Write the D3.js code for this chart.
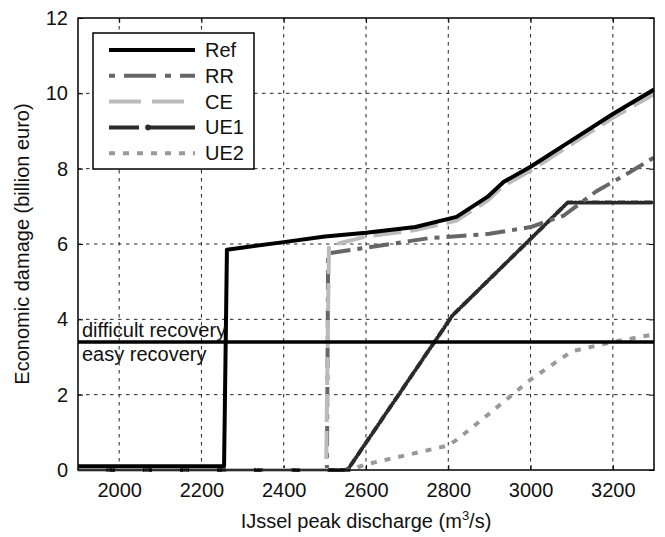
<!DOCTYPE html>
<html>
<head>
<meta charset="utf-8">
<script src="https://cdn.jsdelivr.net/npm/d3@7"></script>
<style>
  body { margin: 0; background: #fff; }
  text { font-family: "Liberation Sans", Arial, sans-serif; fill: #111; }
</style>
</head>
<body>
<script>
// discharge (m3/s) vs damage (billion euro)
var refData = [[1900,0.1],[2255,0.1],[2262,5.85],[2400,6.05],[2500,6.2],[2600,6.3],[2720,6.45],[2820,6.72],[2895,7.25],[2935,7.65],[3000,8.05],[3100,8.75],[3200,9.45],[3300,10.1]]
var rrData = [[1900,0],[2505,0],[2508,5.75],[2600,5.9],[2750,6.15],[2900,6.27],[3000,6.45],[3080,6.75],[3160,7.4],[3240,7.9],[3300,8.3]]
var ceData = [[1900,0],[2503,0],[2510,5.95],[2600,6.2],[2720,6.37],[2820,6.62],[2895,7.15],[2935,7.55],[3000,7.95],[3100,8.65],[3200,9.35],[3300,9.98]]
var ue1Data = [[1900,0],[2555,0],[2810,4.1],[3090,7.1],[3300,7.1]]
var ue2Data = [[1900,0],[2560,0],[2600,0.15],[2800,0.65],[2820,0.8],[2900,1.5],[3000,2.4],[3100,3.15],[3200,3.4],[3300,3.6]]
var threshold = 3.4
var seriesNames = ["Ref", "RR", "CE", "UE1", "UE2"]
var xTicks = [2000, 2200, 2400, 2600, 2800, 3000, 3200]
var yTicks = [0, 2, 4, 6, 8, 10, 12]

var width = 665
var height = 537
var pL = 78, pR = 654, pT = 18, pB = 470

var styles = {
  Ref: {color: "#000", w: 4, dash: null, cap: "butt"},
  RR: {color: "#666", w: 4, dash: "20 7 5 7", cap: "butt"},
  CE: {color: "#bbb", w: 4, dash: "28 9", cap: "butt"},
  UE1: {color: "#2a2a2a", w: 4, dash: "7 3 0.1 3", cap: "round"},
  UE2: {color: "#999", w: 4, dash: "6 8", cap: "butt"}
}
var seriesData = {Ref: refData, RR: rrData, CE: ceData, UE1: ue1Data, UE2: ue2Data}

var x = d3.scaleLinear().domain([1900, 3300]).range([pL, pR])
var y = d3.scaleLinear().domain([0, 12]).range([pB, pT])

var svg = d3.select("body").append("svg")
  .attr("width", width)
  .attr("height", height)

svg.append("defs").append("clipPath").attr("id", "plotclip")
  .append("rect").attr("x", pL).attr("y", pT - 2)
  .attr("width", pR - pL).attr("height", pB - pT + 4)

// grid
var grid = svg.append("g")
grid.selectAll("line.gx")
  .data(xTicks)
  .enter()
  .append("line")
  .attr("x1", d => x(d)).attr("x2", d => x(d))
  .attr("y1", pT).attr("y2", pB)
  .attr("stroke", "#222").attr("stroke-width", 1)
  .attr("stroke-dasharray", "3.5 4.5")
grid.selectAll("line.gy")
  .data(yTicks.filter(d => d > 0 && d < 12))
  .enter()
  .append("line")
  .attr("x1", pL).attr("x2", pR)
  .attr("y1", d => y(d)).attr("y2", d => y(d))
  .attr("stroke", "#222").attr("stroke-width", 1)
  .attr("stroke-dasharray", "3.5 4.5")

// axes (ticks inward, labels outside)
svg.append("g").attr("transform", "translate(0," + pB + ")")
  .call(d3.axisBottom(x).tickValues(xTicks).tickSize(-5).tickPadding(13).tickFormat(d3.format("d")))
svg.append("g").attr("transform", "translate(" + pL + ",0)")
  .call(d3.axisLeft(y).tickValues(yTicks).tickSize(-5).tickPadding(10).tickFormat(d3.format("d")))
svg.append("g").attr("transform", "translate(0," + pT + ")")
  .call(d3.axisTop(x).tickValues(xTicks).tickSize(-5).tickFormat(""))
svg.append("g").attr("transform", "translate(" + pR + ",0)")
  .call(d3.axisRight(y).tickValues(yTicks).tickSize(-5).tickFormat(""))
svg.selectAll(".domain").remove()
svg.selectAll(".tick line").attr("stroke", "#000")
svg.selectAll(".tick text").style("font-size", "20px")
  .style("font-family", "'Liberation Sans', Arial, sans-serif").attr("fill", "#111")

// lines
var line = d3.line().x(d => x(d[0])).y(d => y(d[1]))
var plot = svg.append("g").attr("clip-path", "url(#plotclip)")
var drawOrder = ["UE2", "UE1", "RR", "CE", "Ref"]
drawOrder.forEach(function(name) {
  var s = styles[name]
  plot.append("path")
    .datum(seriesData[name])
    .attr("d", line)
    .attr("fill", "none")
    .attr("stroke", s.color)
    .attr("stroke-width", s.w)
    .attr("stroke-linecap", s.cap)
    .attr("stroke-linejoin", "round")
    .attr("stroke-dasharray", s.dash)
})
plot.append("circle")
  .attr("cx", x(ue1Data[1][0])).attr("cy", y(ue1Data[1][1])).attr("r", 3)
  .attr("fill", "#555")

// threshold line
plot.append("line")
  .attr("x1", x(1900)).attr("x2", x(3300))
  .attr("y1", y(threshold)).attr("y2", y(threshold))
  .attr("stroke", "#000").attr("stroke-width", 3.5)
svg.append("text").attr("x", pL + 4).attr("y", y(threshold) - 5)
  .style("font-size", "20px").text("difficult recovery")
svg.append("text").attr("x", pL + 4).attr("y", y(threshold) + 19)
  .style("font-size", "20px").text("easy recovery")

// frame
svg.append("rect")
  .attr("x", pL).attr("y", pT)
  .attr("width", pR - pL).attr("height", pB - pT)
  .attr("fill", "none").attr("stroke", "#000").attr("stroke-width", 1.5)

// legend
var legend = svg.append("g")
legend.append("rect")
  .attr("x", 93).attr("y", 33).attr("width", 161).attr("height", 136)
  .attr("fill", "#fff").attr("stroke", "#000").attr("stroke-width", 1.5)
var rows = legend.selectAll("g.row")
  .data(seriesNames)
  .enter()
  .append("g")
  .attr("transform", (d, i) => "translate(0," + (50 + i * 25.8) + ")")
rows.append("line")
  .attr("x1", 109).attr("x2", 195).attr("y1", 0).attr("y2", 0)
  .attr("stroke", d => styles[d].color)
  .attr("stroke-width", d => styles[d].w)
  .attr("stroke-linecap", "butt")
  .attr("stroke-dasharray", d => d === "RR" ? "6 9 32 9" : d === "CE" ? "32 11" : d === "UE1" ? "30 8 60 0" : styles[d].dash)
rows.filter(d => d === "UE1").append("circle")
  .attr("cx", 148).attr("cy", 0).attr("r", 2.8).attr("fill", "#2a2a2a")
rows.append("text")
  .attr("x", 205).attr("y", 7)
  .style("font-size", "20px")
  .text(d => d)

// axis titles
var xt = svg.append("text")
  .attr("x", (pL + pR) / 2).attr("y", 528)
  .attr("text-anchor", "middle")
  .style("font-size", "20px")
xt.append("tspan").text("IJssel peak discharge (m")
xt.append("tspan").attr("dy", -8).style("font-size", "13px").text("3")
xt.append("tspan").attr("dy", 8).text("/s)")

svg.append("text")
  .attr("transform", "translate(29," + ((pT + pB) / 2) + ") rotate(-90)")
  .attr("text-anchor", "middle")
  .style("font-size", "20px")
  .text("Economic damage (billion euro)")
</script>
</body>
</html>
